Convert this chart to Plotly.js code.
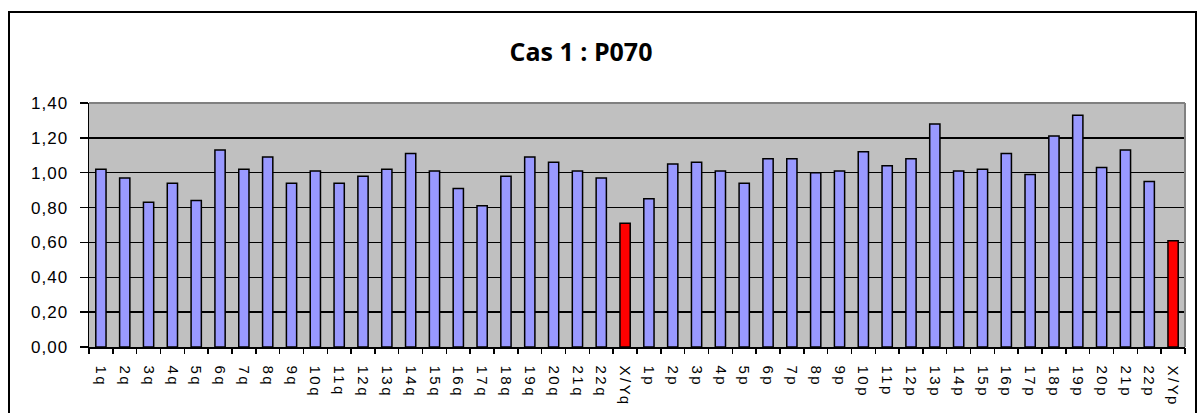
<!DOCTYPE html>
<html>
<head>
<meta charset="utf-8">
<script src="https://cdn.plot.ly/plotly-3.0.1.min.js"></script>
<style>
  html, body { margin: 0; padding: 0; background: #ffffff; }
  #wrap { position: relative; width: 1200px; height: 413px; overflow: hidden; }
  #frame { position: absolute; left: 8px; top: 11px; width: 1189px; height: 420px; border: 2px solid #000; box-sizing: border-box; pointer-events: none; z-index: 2; }
  #chart { position: absolute; left: 0; top: 0; width: 1200px; height: 413px; }
  #chart .xtick text { letter-spacing: 2.5px; }
  #chart .ytick text { letter-spacing: 1px; }
</style>
</head>
<body>
<div id="wrap">
  <div id="chart"></div>
  <div id="frame"></div>
</div>
<script>
const categories = ["1q","2q","3q","4q","5q","6q","7q","8q","9q","10q","11q","12q","13q","14q","15q","16q","17q","18q","19q","20q","21q","22q","X/Yq",
  "1p","2p","3p","4p","5p","6p","7p","8p","9p","10p","11p","12p","13p","14p","15p","16p","17p","18p","19p","20p","21p","22p","X/Yp"];
const values = [1.02,0.97,0.83,0.94,0.84,1.13,1.02,1.09,0.94,1.01,0.94,0.98,1.02,1.11,1.01,0.91,0.81,0.98,1.09,1.06,1.01,0.97,0.71,
  0.85,1.05,1.06,1.01,0.94,1.08,1.08,1.00,1.01,1.12,1.04,1.08,1.28,1.01,1.02,1.11,0.99,1.21,1.33,1.03,1.13,0.95,0.61];
const yTicks = [0,0.2,0.4,0.6,0.8,1.0,1.2,1.4];

const colors = categories.map(c => c.startsWith("X/Y") ? "#FF0000" : "#9999FF");
const xRange = [-0.5, categories.length - 0.5];

const trace = {
  type: "bar",
  x: categories,
  y: values,
  marker: { color: colors, line: { color: "#000000", width: 1.5 } },
  hoverinfo: "x+y"
};

// invisible companion trace so the boundary-tick axis (x2) is drawn
const tickTrace = {
  type: "scatter",
  mode: "markers",
  x: categories,
  y: values,
  xaxis: "x2",
  yaxis: "y",
  marker: { opacity: 0, size: 1 },
  hoverinfo: "skip",
  showlegend: false
};

const layout = {
  width: 1200, height: 413,
  margin: { l: 89, r: 15, t: 103, b: 66, pad: 0 },
  paper_bgcolor: "rgba(0,0,0,0)",
  plot_bgcolor: "#C0C0C0",
  separators: ", ",
  showlegend: false,
  bargap: 0.57,
  title: {
    text: "<b>Cas 1 : P070</b>",
    font: { family: "Open Sans, Noto Sans, sans-serif", size: 25, color: "#000000" },
    xref: "container", yref: "container",
    x: 581/1200, xanchor: "center",
    y: 1 - 52/413, yanchor: "middle"
  },
  xaxis: {
    type: "category",
    range: xRange, autorange: false,
    showgrid: false,
    showline: true, linecolor: "#000000", linewidth: 1.5,
    ticks: "",
    tickangle: 90,
    ticklabelstandoff: 14,
    tickfont: { family: "Liberation Sans, Arial, sans-serif", size: 15, color: "#000000" },
    zeroline: false
  },
  xaxis2: {
    type: "category",
    overlaying: "x",
    matches: "x",
    range: xRange, autorange: false,
    side: "bottom",
    anchor: "y",
    showgrid: false,
    showline: false,
    showticklabels: false,
    ticks: "outside", tickson: "boundaries", ticklen: 6, tickcolor: "#000000", tickwidth: 1.5,
    zeroline: false
  },
  yaxis: {
    range: [0, 1.4],
    tickvals: yTicks,
    tickformat: ".2f",
    showgrid: true, gridcolor: "#000000", gridwidth: 1.5,
    showline: true, linecolor: "#000000", linewidth: 1.5,
    ticks: "outside", ticklen: 8, tickcolor: "#000000", tickwidth: 1.5,
    ticklabelstandoff: 8,
    tickfont: { family: "Liberation Sans, Arial, sans-serif", size: 17, color: "#000000" },
    zeroline: false
  },
  shapes: [
    { type: "line", xref: "paper", yref: "paper", x0: 0, x1: 1, y0: 1, y1: 1, line: { color: "#808080", width: 2 }, layer: "above" },
    { type: "line", xref: "paper", yref: "paper", x0: 1, x1: 1, y0: 0, y1: 1, line: { color: "#808080", width: 2 }, layer: "above" }
  ]
};

Plotly.newPlot("chart", [trace, tickTrace], layout, { displayModeBar: false, staticPlot: true });
</script>
</body>
</html>
